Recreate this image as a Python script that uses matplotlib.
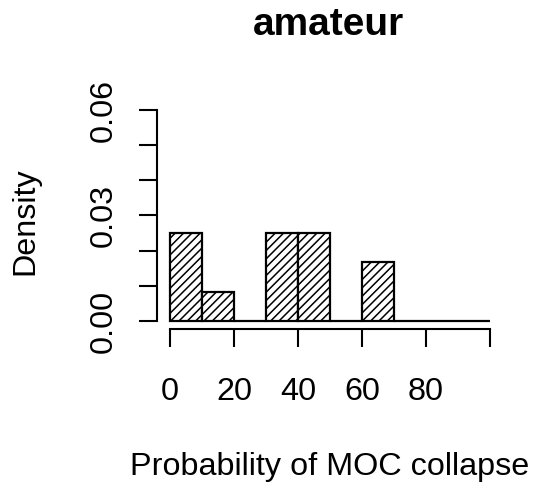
import matplotlib
matplotlib.use("Agg")
import matplotlib.pyplot as plt

plt.rcParams['font.family'] = ['Liberation Sans', 'DejaVu Sans']
plt.rcParams['hatch.linewidth'] = 1.1

# histogram bins and densities (12 observations, bin width 10)
bin_left = [0, 10, 20, 30, 40, 50, 60, 70, 80, 90]
density = [0.025, 0.00833, 0.0, 0.025, 0.025, 0.0, 0.01667, 0.0, 0.0, 0.0]
x_ticks = [0, 20, 40, 60, 80, 100]
x_labels = ['0', '20', '40', '60', '80', '']
y_ticks = [0.0, 0.01, 0.02, 0.03, 0.04, 0.05, 0.06]
y_labels = ['0.00', '', '', '0.03', '', '', '0.06']

W, H = 535, 488
fig = plt.figure(figsize=(W / 100, H / 100), dpi=100)
left, right, bottom, top = 157.2, 502.8, 329.4, 101.6
ax = fig.add_axes([left / W, 1 - bottom / H, (right - left) / W, (bottom - top) / H])

ax.bar(bin_left, density, width=10, align='edge', facecolor='white',
       edgecolor='black', linewidth=1.6, hatch='////')

ax.set_xlim(-4, 104)
ax.set_ylim(-0.0024, 0.0624)

for s in ['top', 'right']:
    ax.spines[s].set_visible(False)
ax.spines['left'].set_bounds(0, 0.06)
ax.spines['bottom'].set_bounds(0, 100)
ax.spines['left'].set_linewidth(1.5)
ax.spines['bottom'].set_linewidth(1.5)

ax.set_xticks(x_ticks)
ax.set_xticklabels(x_labels)
ax.set_yticks(y_ticks)
ax.set_yticklabels(y_labels, rotation=90, va='center')
ax.tick_params(axis='both', length=13, width=1.5, labelsize=23.3)
ax.tick_params(axis='x', pad=21)
ax.tick_params(axis='y', pad=14.5)

fig.text(328 / W, 1 - 35 / H, 'amateur', fontsize=28, fontweight='bold',
         ha='center', va='baseline')
fig.text(33 / W, 1 - 221 / H, 'Density', rotation=90, fontsize=23.3,
         ha='center', va='baseline', rotation_mode='anchor')
fig.text(330 / W, 1 - 475 / H, 'Probability of MOC collapse', fontsize=23.3,
         ha='center', va='baseline')

fig.savefig('out.png', dpi=100)
